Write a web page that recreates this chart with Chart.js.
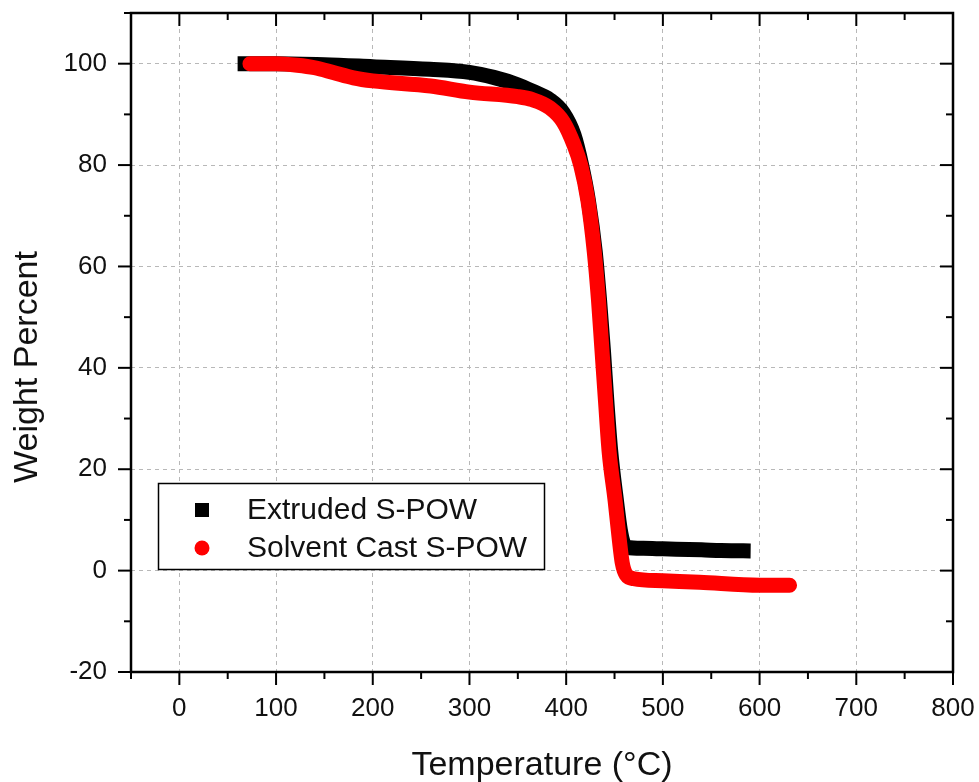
<!DOCTYPE html>
<html lang="en">
<head>
    <meta charset="UTF-8">
    <title>TGA - Weight Percent vs Temperature</title>
    <script src="https://cdn.jsdelivr.net/npm/chart.js"></script>
    <style>
        html, body {
            margin: 0;
            padding: 0;
            background: #fff;
        }
        .chart-container {
            width: 979px;
            height: 782px;
        }
    </style>
</head>
<body>

    <div class="chart-container">
        <canvas id="tgaChart"></canvas>
    </div>

    <script>
        // Series names (legend)
        const seriesNames = ['Extruded S-POW', 'Solvent Cast S-POW'];

        // Extruded S-POW (black squares)
        const extrudedTemp = [68, 100, 150, 200, 259, 300, 325, 349, 365, 383, 397, 408, 416, 423, 430, 434.5, 438.5, 442, 446, 452, 456, 459, 463, 480, 500, 540, 560, 583];
        const extrudedWeight = [100, 100, 99.8, 99.4, 98.9, 98.3, 97.3, 95.9, 94.6, 92.9, 90.3, 86, 80, 73, 63, 53.4, 43.5, 33.6, 23.7, 13.8, 8, 5.5, 4.6, 4.4, 4.3, 4.1, 3.95, 3.9];

        // Solvent Cast S-POW (red circles)
        const castTemp = [73, 100, 122, 140, 160, 180, 200, 260, 300, 350, 365, 383, 397, 408, 415, 422.5, 429, 433.4, 437, 440.6, 444.3, 450.6, 455, 458, 462, 470, 500, 538, 600, 631];
        const castWeight = [100, 100, 99.7, 99.2, 98.2, 97.2, 96.6, 95.6, 94.4, 93.5, 92.9, 91.3, 88.5, 84, 80, 73, 63, 53.4, 43.5, 33.6, 23.7, 13.8, 6, 1.5, -0.8, -1.6, -2.0, -2.3, -2.9, -2.9];

        // Axis ranges and ticks
        const xMin = -50, xMax = 800, xStep = 100, xMinor = 50;
        const yMin = -20, yMax = 110, yStep = 20, yMinor = 10;
        const xTitle = 'Temperature (°C)';
        const yTitle = 'Weight Percent';

        const toPoints = (xs, ys) => xs.map((t, i) => ({ x: t, y: ys[i] }));

        const fontFamily = '"Liberation Sans", Arial, sans-serif';

        // Frame, tick marks, axis titles and legend box
        const framePlugin = {
            id: 'frame',
            afterDraw(chart) {
                const { ctx, chartArea: a, scales: { x, y } } = chart;
                ctx.save();

                const line = (x1, y1, x2, y2) => {
                    ctx.beginPath();
                    ctx.moveTo(x1, y1);
                    ctx.lineTo(x2, y2);
                    ctx.stroke();
                };

                ctx.strokeStyle = '#000';
                ctx.lineWidth = 2;
                for (let v = xMin; v <= xMax; v += xMinor) {
                    const px = x.getPixelForValue(v);
                    const len = v % xStep === 0 ? 13 : 7;
                    line(px, a.bottom, px, a.bottom + len);
                    line(px, a.top, px, a.top + len);
                }
                for (let v = yMin; v <= yMax; v += yMinor) {
                    const py = y.getPixelForValue(v);
                    const len = (v - yMin) % yStep === 0 ? 13 : 7;
                    line(a.left - len, py, a.left, py);
                    line(a.right - len, py, a.right, py);
                }

                ctx.lineWidth = 2.5;
                ctx.strokeRect(a.left, a.top, a.right - a.left, a.bottom - a.top);

                // axis titles
                ctx.fillStyle = '#111';
                ctx.font = '34px ' + fontFamily;
                ctx.textAlign = 'center';
                ctx.textBaseline = 'alphabetic';
                ctx.fillText(xTitle, (a.left + a.right) / 2, 775);

                ctx.save();
                ctx.translate(37, 367);
                ctx.rotate(-Math.PI / 2);
                ctx.fillText(yTitle, 0, 0);
                ctx.restore();

                // legend
                const lx = 158.5, ly = 483.5, lw = 386, lh = 86;
                ctx.fillStyle = '#fff';
                ctx.fillRect(lx, ly, lw, lh);
                ctx.lineWidth = 1.5;
                ctx.strokeStyle = '#000';
                ctx.strokeRect(lx, ly, lw, lh);

                ctx.fillStyle = '#000';
                ctx.fillRect(195, 503, 14, 14);
                ctx.fillStyle = '#ff0000';
                ctx.beginPath();
                ctx.arc(202, 548, 7.5, 0, Math.PI * 2);
                ctx.fill();

                ctx.fillStyle = '#111';
                ctx.font = '30px ' + fontFamily;
                ctx.textAlign = 'left';
                ctx.textBaseline = 'middle';
                ctx.fillText(seriesNames[0], 247, 511);
                ctx.fillText(seriesNames[1], 247, 549);

                ctx.restore();
            }
        };

        const ctx = document.getElementById('tgaChart').getContext('2d');
        new Chart(ctx, {
            type: 'line',
            data: {
                datasets: [{
                    label: seriesNames[0],
                    data: toPoints(extrudedTemp, extrudedWeight),
                    borderColor: '#000000',
                    backgroundColor: '#000000',
                    borderWidth: 15,
                    borderCapStyle: 'square',
                    borderJoinStyle: 'round',
                    cubicInterpolationMode: 'monotone',
                    pointRadius: 0,
                    order: 2
                }, {
                    label: seriesNames[1],
                    data: toPoints(castTemp, castWeight),
                    borderColor: '#ff0000',
                    backgroundColor: '#ff0000',
                    borderWidth: 15,
                    borderCapStyle: 'round',
                    borderJoinStyle: 'round',
                    cubicInterpolationMode: 'monotone',
                    pointRadius: 0,
                    order: 1
                }]
            },
            options: {
                responsive: true,
                maintainAspectRatio: false,
                animation: false,
                layout: {
                    padding: { left: 0, right: 26, top: 13, bottom: 0 }
                },
                plugins: {
                    legend: { display: false },
                    tooltip: { enabled: false }
                },
                scales: {
                    x: {
                        type: 'linear',
                        min: xMin,
                        max: xMax,
                        afterFit: (scale) => {
                            scale.height = 110;
                            scale.paddingLeft = 0;
                            scale.paddingRight = 0;
                        },
                        border: { display: false, dash: [4, 4] },
                        grid: {
                            color: '#b8b8b8',
                            lineWidth: 1,
                            drawTicks: false
                        },
                        ticks: {
                            stepSize: xStep,
                            includeBounds: false,
                            padding: 21,
                            color: '#111',
                            font: { family: fontFamily, size: 26 }
                        }
                    },
                    y: {
                        type: 'linear',
                        min: yMin,
                        max: yMax,
                        afterFit: (scale) => {
                            scale.width = 131;
                            scale.paddingTop = 0;
                            scale.paddingBottom = 0;
                        },
                        border: { display: false, dash: [4, 4] },
                        grid: {
                            color: '#b8b8b8',
                            lineWidth: 1,
                            drawTicks: false
                        },
                        ticks: {
                            stepSize: yStep,
                            includeBounds: false,
                            padding: 24,
                            color: '#111',
                            font: { family: fontFamily, size: 26 }
                        }
                    }
                }
            },
            plugins: [framePlugin]
        });
    </script>

</body>
</html>
